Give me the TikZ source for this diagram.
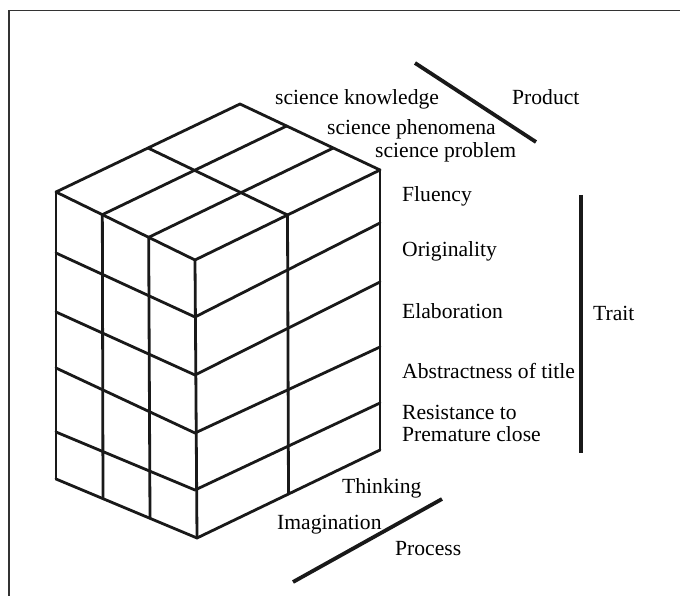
\documentclass[tikz,border=0pt]{standalone}
\usepackage{fontspec}
\setmainfont{Liberation Serif}
\usetikzlibrary{calc}
\begin{document}
\begin{tikzpicture}[x=1pt,y=-1pt,
  cubeline/.style={line width=2.8pt,color=black!90,line join=round,line cap=round},
  axisline/.style={line width=3.8pt,color=black!90},
  frameline/.style={line width=1.6pt,color=black!80},
  lbl/.style={anchor=base west,inner sep=0pt,font=\fontsize{21.6}{19}\selectfont}]
\useasboundingbox (0,0) rectangle (680,596);
\fill[white] (0,0) rectangle (680,596);
% frame (only top and left edges visible)
\draw[frameline] (9,597) -- (9,10.5) -- (681,10.5);
% cube key points
\coordinate (B) at (240,104);
\coordinate (L0) at (56,192); \coordinate (F0) at (195,260); \coordinate (R0) at (380,170);
\coordinate (L1) at (56,253); \coordinate (F1) at (195,317); \coordinate (R1) at (380,223);
\coordinate (L2) at (56,312); \coordinate (F2) at (195,375); \coordinate (R2) at (380,282);
\coordinate (L3) at (56,368); \coordinate (F3) at (195,433); \coordinate (R3) at (380,347);
\coordinate (L4) at (56,432); \coordinate (F4) at (195,490); \coordinate (R4) at (380,403);
\coordinate (L5) at (56,479); \coordinate (F5) at (197,538); \coordinate (R5) at (380,450);
% top face
\draw[cubeline] (L0) -- (B) -- (R0) -- (F0) -- cycle;
\draw[cubeline] ($(L0)!1/3!(F0)$) -- ($(B)!1/3!(R0)$);
\draw[cubeline] ($(L0)!2/3!(F0)$) -- ($(B)!2/3!(R0)$);
\draw[cubeline] ($(L0)!.5!(B)$) -- ($(F0)!.5!(R0)$);
% horizontal rows
\foreach \k in {1,...,5}{
  \draw[cubeline] (L\k) -- (F\k) -- (R\k);
}
% verticals
\draw[cubeline] (L0) -- (L5);
\draw[cubeline] ($(L0)!1/3!(F0)$) -- ($(L5)!1/3!(F5)$);
\draw[cubeline] ($(L0)!2/3!(F0)$) -- ($(L5)!2/3!(F5)$);
\draw[cubeline] (F0) -- (F5);
\draw[cubeline] ($(F0)!.5!(R0)$) -- ($(F5)!.5!(R5)$);
\draw[cubeline] (R0) -- (R5);
% labels
\node[lbl] (sk) at (275,105) {science knowledge};
\node[lbl] (sph) at (327,135) {science phenomena};
\node[lbl] (spr) at (375,158) {science problem};
\node[lbl] (prod) at (512,105) {Product};
\node[lbl] (flu) at (402,202) {Fluency};
\node[lbl] (ori) at (402,256) {Originality};
\node[lbl] (ela) at (402,318) {Elaboration};
\node[lbl] (abs) at (402,378) {Abstractness of title};
\node[lbl] (res) at (402,419) {Resistance to};
\node[lbl] (pre) at (402,441) {Premature close};
\node[lbl] (trait) at (593,320) {Trait};
\node[lbl] (thi) at (342,493) {Thinking};
\node[lbl] (ima) at (277,529) {Imagination};
\node[lbl] (proc) at (395,555) {Process};
% axis lines
\coordinate (pa) at (415,63); \coordinate (pb) at (536,142);
\coordinate (ta) at (581,195); \coordinate (tb) at (581,453);
\coordinate (ca) at (293,582); \coordinate (cb) at (442,499);
\draw[axisline] (pa) -- (pb);
\draw[axisline] (ta) -- (tb);
\draw[axisline] (ca) -- (cb);
\end{tikzpicture}
\end{document}
